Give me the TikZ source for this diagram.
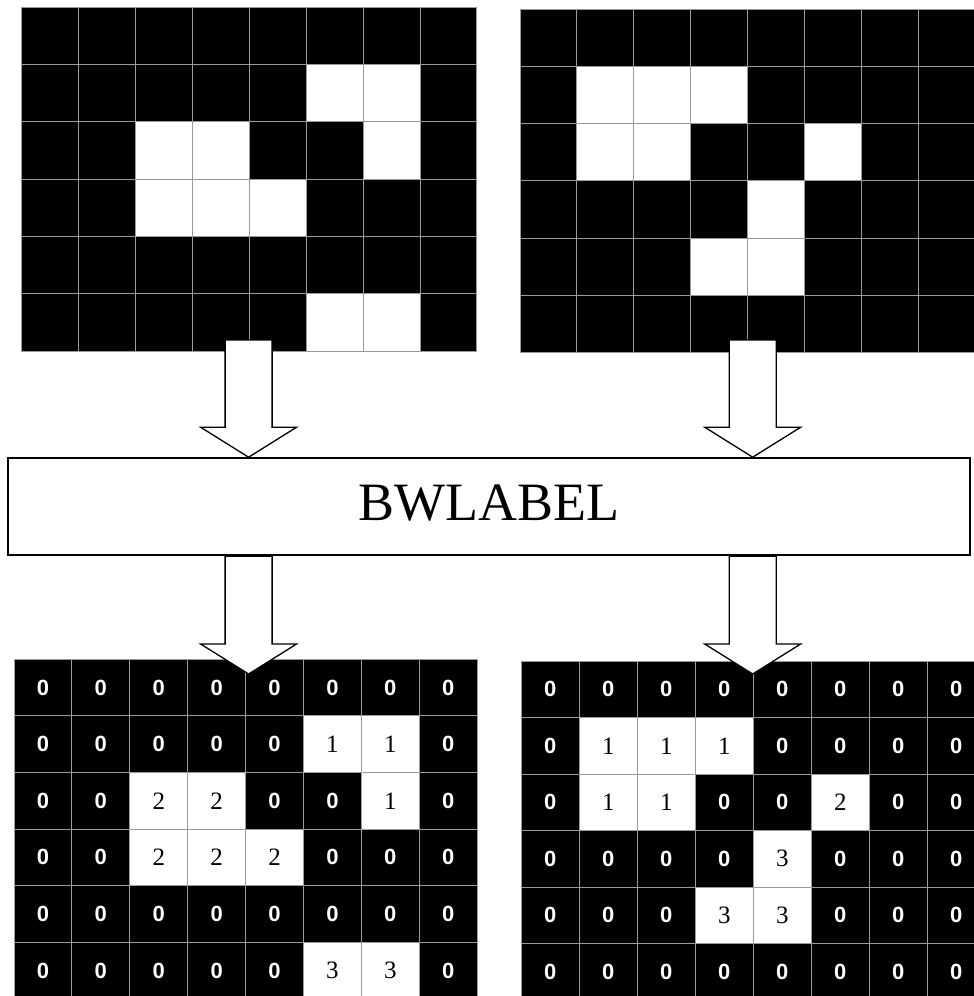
\documentclass[tikz,border=0pt]{standalone}
\usepackage{fontspec}
\setmainfont{Liberation Serif}
\newfontfamily\cellsans{Liberation Sans}
\usetikzlibrary{calc}
\definecolor{gridgrey}{RGB}{155,155,155}

\tikzset{
  cell/.style={draw=gridgrey, line width=1pt},
  blockarrow/.style={draw=black, fill=white, line width=1.3pt},
  bwbox/.style={draw=black, fill=white, line width=2pt, inner sep=0pt,
    minimum width=962pt, minimum height=97pt, text depth=9pt,
    font=\fontsize{54}{60}\selectfont},
  zerodigit/.style={text=white, inner sep=0pt,
    font=\cellsans\bfseries\fontsize{22}{24}\selectfont},
  labdigit/.style={text=black, inner sep=0pt, font=\fontsize{25}{27}\selectfont}
}

% binary image: 0 = black pixel, 1 = white pixel
\newcommand{\bingrid}[5]{% x0, y0, cell width, cell height, rows
  \foreach \row [count=\r from 0] in {#5}{
    \foreach \v [count=\c from 0] in \row{
      \ifnum\v=0 \def\cellfill{black}\else\def\cellfill{white}\fi
      \filldraw[cell, fill=\cellfill] (#1+\c*#3, #2+\r*#4) rectangle ++(#3,#4);
    }
  }
}

% label matrix: 0 on black, object number on white
\newcommand{\labgrid}[6]{% name, x0, y0, cell width, cell height, rows
  \foreach \row [count=\r from 0] in {#6}{
    \foreach \v [count=\c from 0] in \row{
      \ifnum\v=0
        \filldraw[cell, fill=black] (#2+\c*#4, #3+\r*#5) rectangle ++(#4,#5);
        \node[zerodigit] (#1-\r-\c) at (#2+\c*#4+#4/2, #3+\r*#5+#5/2) {0};
      \else
        \filldraw[cell, fill=white] (#2+\c*#4, #3+\r*#5) rectangle ++(#4,#5);
        \node[labdigit] (#1-\r-\c) at (#2+\c*#4+#4/2, #3+\r*#5+#5/2) {\v};
      \fi
    }
  }
}

% hollow arrow from foot (#1) down to tip (#2)
\newcommand{\blockarrow}[2]{%
  \draw[blockarrow] let \p1=(#1), \p2=(#2) in
    (\x1-23.5pt,\y1) -- (\x1-23.5pt,\y2+30pt) -- (\x1-48pt,\y2+30pt)
    -- (\x1,\y2) -- (\x1+48pt,\y2+30pt) -- (\x1+23.5pt,\y2+30pt)
    -- (\x1+23.5pt,\y1) -- cycle;
}

\begin{document}
\begin{tikzpicture}[x=1pt, y=-1pt]
  \useasboundingbox (0,0) rectangle (974,996);
  \clip (0,0) rectangle (974,996);

  % input images
  \bingrid{21.7}{7.3}{56.9}{57.3}{{0,0,0,0,0,0,0,0},{0,0,0,0,0,1,1,0},
    {0,0,1,1,0,0,1,0},{0,0,1,1,1,0,0,0},{0,0,0,0,0,0,0,0},{0,0,0,0,0,1,1,0}}
  \bingrid{520}{9.3}{56.9}{57.2}{{0,0,0,0,0,0,0,0},{0,1,1,1,0,0,0,0},
    {0,1,1,0,0,1,0,0},{0,0,0,0,1,0,0,0},{0,0,0,1,1,0,0,0},{0,0,0,0,0,0,0,0}}

  % labelled outputs
  \labgrid{bl}{14}{659.3}{57.9}{56.6}{{0,0,0,0,0,0,0,0},{0,0,0,0,0,1,1,0},
    {0,0,2,2,0,0,1,0},{0,0,2,2,2,0,0,0},{0,0,0,0,0,0,0,0},{0,0,0,0,0,3,3,0}}
  \labgrid{br}{521.3}{661}{58}{56.5}{{0,0,0,0,0,0,0,0},{0,1,1,1,0,0,0,0},
    {0,1,1,0,0,2,0,0},{0,0,0,0,3,0,0,0},{0,0,0,3,3,0,0,0},{0,0,0,0,0,0,0,0}}

  % the function
  \node[bwbox] (bwlabel) at (489.2,506.7) {BWLABEL};

  \coordinate (tlfoot) at (248.6,340);
  \coordinate (trfoot) at (752.7,340);
  \coordinate (blhead) at (248.6,674);
  \coordinate (brhead) at (752.7,674);

  \blockarrow{tlfoot}{tlfoot |- bwlabel.north}
  \blockarrow{trfoot}{trfoot |- bwlabel.north}
  \blockarrow{blhead |- bwlabel.south}{blhead}
  \blockarrow{brhead |- bwlabel.south}{brhead}
\end{tikzpicture}
\end{document}
